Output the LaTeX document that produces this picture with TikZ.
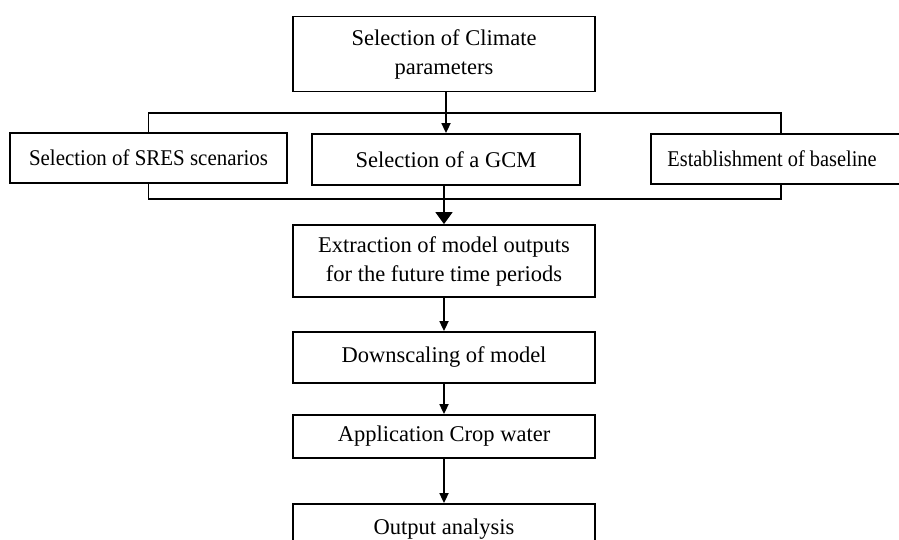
\documentclass[tikz,border=0pt]{standalone}
\usepackage{fontspec}
\usepackage{graphicx}
\setmainfont{Liberation Serif}
\usetikzlibrary{arrows.meta}
\tikzset{
  box/.style={draw=black, line width=1.8pt, fill=white, inner sep=0pt, align=center,
    font=\fontsize{22.5}{29}\selectfont},
  conn/.style={draw=black, line width=1.7pt},
  arr/.style={conn, -{Triangle[length=10pt,width=9pt]}},
  bigarr/.style={conn, -{Triangle[length=12pt,width=17pt]}}
}
\begin{document}
\begin{tikzpicture}[x=1pt,y=-1pt]
\useasboundingbox (0,0) rectangle (899,540);
\clip (0,0) rectangle (899,540);
\fill[white] (0,0) rectangle (899,540);
\node[box, minimum width=302pt, minimum height=75pt] (top) at (444,54) {Selection of Climate\\parameters};
\node[box, minimum width=277pt, minimum height=50pt] (sres) at (148.5,158) {\scalebox{0.93}[1]{Selection of SRES scenarios}};
\node[box, minimum width=268pt, minimum height=51pt] (gcm) at (446,159.5) {Selection of a GCM};
\node[box, minimum width=260pt, minimum height=50pt] (base) at (781,159) {\hspace*{-18pt}\scalebox{0.905}[1]{Establishment of baseline}};
\node[box, minimum width=302pt, minimum height=72pt] (extr) at (444,261) {Extraction of model outputs\\for the future time periods};
\node[box, minimum width=302pt, minimum height=51pt] (down) at (444,357.5) {Downscaling of model};
\node[box, minimum width=302pt, minimum height=43pt] (appl) at (444,436.5) {Application Crop water};
\node[box, minimum width=302pt, minimum height=56pt] (outp) at (444,532) {\raisebox{11pt}{Output analysis}};
\coordinate (busA) at (444,113);
\coordinate (busB) at (444,199);
\draw[conn] (sres.north) -- (sres.north |- busA) -- (base.north |- busA) -- (base.north);
\draw[arr] (top.south -| gcm.north) -- (gcm.north);
\draw[conn] (sres.south) -- (sres.south |- busB) -- (base.south |- busB) -- (base.south);
\draw[bigarr] (gcm.south -| extr.north) -- (extr.north);
\draw[arr] (extr.south) -- (down.north);
\draw[arr] (down.south) -- (appl.north);
\draw[arr] (appl.south) -- (outp.north);
\end{tikzpicture}
\end{document}
